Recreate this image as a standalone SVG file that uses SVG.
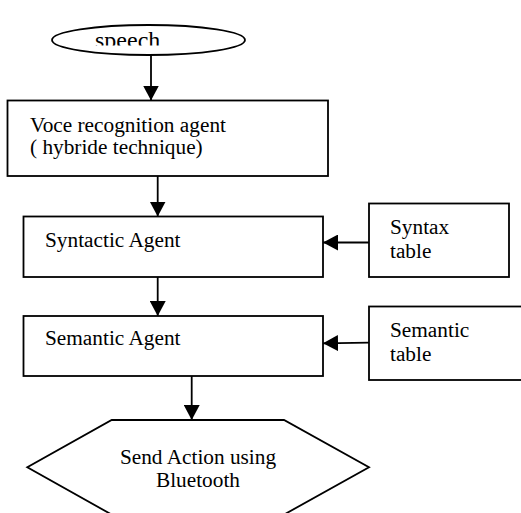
<svg xmlns="http://www.w3.org/2000/svg" width="521" height="513" viewBox="0 0 521 513" font-family="'Liberation Serif', 'Times New Roman', Times, 'DejaVu Serif', serif">
  <style>
    .shape { fill: #ffffff; stroke: #000000; stroke-width: 1.8; }
    .link { fill: none; stroke: #000000; stroke-width: 1.8; }
    .label { font-family: 'Liberation Serif', 'Times New Roman', Times, 'DejaVu Serif', serif; font-size: 21.3px; fill: #000000; }
  </style>
  <defs>
    <marker id="arrow" viewBox="0 0 15 16" refX="15" refY="8" markerWidth="15" markerHeight="16" markerUnits="userSpaceOnUse" orient="auto">
      <path d="M0,0 L15,8 L0,16 Z" fill="#000000"/>
    </marker>
    <clipPath id="speechClip">
      <rect x="52" y="20" width="194" height="25.5"/>
    </clipPath>
  </defs>
  <rect width="521" height="513" fill="#ffffff"/>

  <g id="speech">
    <ellipse class="shape" cx="148.5" cy="40" rx="96.5" ry="15"/>
    <text class="label" x="95" y="47.5" font-size="24" style="font-size:24px" clip-path="url(#speechClip)">speech</text>
  </g>

  <g id="voice-recognition">
    <rect class="shape" x="7.5" y="100.5" width="320.5" height="75.5"/>
    <text class="label" x="30" y="131.5">Voce recognition agent</text>
    <text class="label" x="30" y="153.5">( hybride technique)</text>
  </g>

  <g id="syntactic-agent">
    <rect class="shape" x="23.5" y="216.5" width="299.5" height="60.5"/>
    <text class="label" x="45" y="246.5">Syntactic Agent</text>
  </g>

  <g id="syntax-table">
    <rect class="shape" x="369" y="203.5" width="140" height="73.5"/>
    <text class="label" x="390" y="233.5">Syntax</text>
    <text class="label" x="390" y="257.5">table</text>
  </g>

  <g id="semantic-agent">
    <rect class="shape" x="23.5" y="316" width="299.5" height="60"/>
    <text class="label" x="45" y="345">Semantic Agent</text>
  </g>

  <g id="semantic-table">
    <rect class="shape" x="369" y="306.5" width="170" height="73.5"/>
    <text class="label" x="390" y="336.5">Semantic</text>
    <text class="label" x="390" y="360.5">table</text>
  </g>

  <g id="send-action">
    <polygon class="shape" points="111.7,420 284,420 369,467.3 284,514.6 111.7,514.6 27.3,467.3"/>
    <text class="label" x="198" y="463.5" text-anchor="middle">Send Action using</text>
    <text class="label" x="198" y="486.5" text-anchor="middle">Bluetooth</text>
  </g>

  <g id="connectors">
    <line class="link" x1="151" y1="55" x2="151" y2="100.5" marker-end="url(#arrow)"/>
    <line class="link" x1="157.7" y1="176" x2="157.7" y2="216.5" marker-end="url(#arrow)"/>
    <line class="link" x1="157.7" y1="277" x2="157.7" y2="316" marker-end="url(#arrow)"/>
    <line class="link" x1="369" y1="242.5" x2="323" y2="242.5" marker-end="url(#arrow)"/>
    <line class="link" x1="369" y1="342.7" x2="323" y2="343.3" marker-end="url(#arrow)"/>
    <line class="link" x1="191.7" y1="376" x2="191.7" y2="420" marker-end="url(#arrow)"/>
  </g>
</svg>
